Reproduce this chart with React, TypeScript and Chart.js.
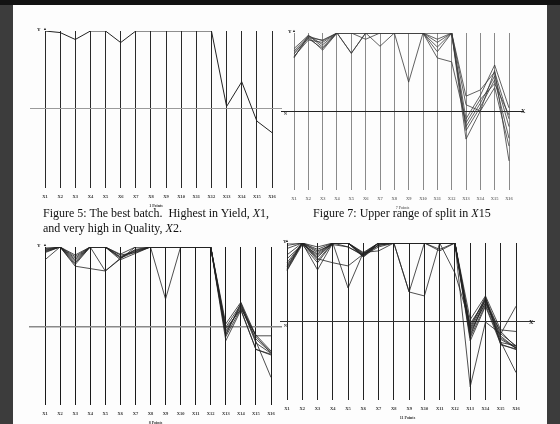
import React, { useEffect, useRef } from "react";
import { Chart, registerables } from "chart.js";

Chart.register(...registerables);

const xLabels = ["X1", "X2", "X3", "X4", "X5", "X6", "X7", "X8", "X9", "X10", "X11", "X12", "X13", "X14", "X15", "X16"];

// Figure 5: the best batch (1 point)
const fig5Lines: number[][] = [
  [1.0, 0.98, 0.89, 1, 1, 0.85, 1, 1, 1, 1, 1, 1, 0.02, 0.34, -0.17, -0.32],
];

// Figure 7: upper range of split in X15 (7 points)
const fig7Lines: number[][] = [
  [0.8, 0.97, 0.85, 1, 1, 1, 1, 1, 1, 1, 1, 1, -0.1, 0.2, 0.59, 0.04],
  [0.77, 0.96, 0.9, 1, 0.74, 1, 1, 1, 1, 1, 0.92, 1, -0.2, 0.1, 0.45, -0.2],
  [0.75, 0.93, 0.8, 1, 1, 0.92, 1, 1, 0.37, 1, 0.88, 1, 0.19, 0.27, 0.5, -0.1],
  [0.73, 0.95, 0.78, 1, 1, 1, 0.83, 1, 1, 1, 0.82, 1, -0.25, 0.05, 0.4, -0.35],
  [0.7, 0.91, 0.88, 1, 0.74, 1, 1, 1, 1, 1, 0.76, 1, -0.36, 0.0, 0.52, -0.64],
  [0.68, 0.97, 0.82, 1, 1, 1, 1, 1, 1, 1, 0.68, 0.63, -0.15, 0.15, 0.35, -0.05],
  [0.69, 0.94, 0.91, 1, 1, 1, 1, 1, 1, 1, 1, 1, 0.08, 0.0, 0.3, -0.45],
];

// lower-left panel (8 points)
const eightLines: number[][] = [
  [1.0, 1, 0.9, 1, 1, 0.91, 1, 1, 1, 1, 1, 1, 0.04, 0.31, -0.11, -0.11],
  [0.97, 1, 0.88, 1, 1, 0.88, 0.95, 1, 1, 1, 1, 1, 0.0, 0.28, -0.12, -0.32],
  [0.95, 1, 0.86, 1, 1, 0.86, 0.97, 1, 0.35, 1, 1, 1, -0.05, 0.25, -0.15, -0.32],
  [0.93, 1, 0.84, 1, 1, 0.9, 0.93, 1, 1, 1, 1, 1, -0.1, 0.3, -0.18, -0.63],
  [0.84, 1, 0.82, 1, 1, 0.84, 0.92, 1, 1, 1, 1, 1, -0.17, 0.21, -0.28, -0.34],
  [0.96, 1, 0.8, 1, 0.7, 0.85, 1, 1, 1, 1, 1, 1, -0.12, 0.23, -0.1, -0.3],
  [0.98, 1, 0.78, 1, 1, 0.87, 0.96, 1, 1, 1, 1, 1, -0.08, 0.27, -0.2, -0.33],
  [0.94, 1, 0.76, 0.73, 0.7, 0.86, 0.94, 1, 1, 1, 1, 1, -0.02, 0.22, -0.28, -0.35],
];

// lower-right panel (11 points)
const elevenLines: number[][] = [
  [1.0, 1, 0.95, 1, 1, 0.88, 1, 1, 1, 1, 1, 1, 0.03, 0.33, -0.1, -0.12],
  [0.97, 1, 0.92, 1, 1, 0.86, 1, 1, 1, 1, 0.9, 1, -0.05, 0.3, -0.15, 0.2],
  [0.93, 1, 0.9, 0.98, 0.95, 0.85, 0.97, 1, 1, 1, 1, 1, -0.1, 0.28, -0.18, -0.33],
  [0.85, 1, 0.88, 1, 1, 0.84, 0.95, 1, 0.38, 0.33, 1, 1, -0.15, 0.25, -0.22, -0.33],
  [0.8, 0.98, 0.86, 1, 1, 0.87, 1, 1, 0.38, 1, 1, 1, -0.2, 0.22, -0.25, -0.64],
  [0.75, 1, 0.84, 1, 0.43, 0.88, 0.9, 1, 1, 1, 1, 0.62, -0.02, 0.27, -0.2, -0.33],
  [0.72, 1, 0.82, 1, 1, 0.83, 1, 1, 1, 1, 0.92, 1, -0.24, 0.2, -0.28, -0.35],
  [0.7, 1, 0.8, 0.75, 0.71, 0.86, 0.97, 1, 1, 1, 1, 1, -0.82, 0.0, -0.15, -0.3],
  [0.68, 1, 0.78, 1, 1, 0.85, 1, 1, 1, 1, 1, 1, -0.08, 0.32, -0.29, -0.34],
  [0.66, 1, 0.66, 1, 1, 0.82, 0.98, 1, 1, 1, 1, 1, -0.12, 0.24, -0.12, -0.32],
  [0.65, 0.98, 0.75, 1, 0.95, 0.84, 1, 1, 1, 1, 1, 1, -0.18, 0.3, -0.26, -0.3],
];

const SERIF = "'Liberation Serif', 'Times New Roman', serif";
const PAD = 3;
const AXH = 20;

type PanelProps = {
  lines: number[][];
  l: number; r: number; t: number; b: number;
  x1: number; x16: number; zero: number;
  title: string;
  gridColor: string; zeroColor: string; zeroWidth: number;
  lineColor: string; lineWidth: number; labelColor: string;
};

function Panel(p: PanelProps) {
  const ref = useRef<HTMLCanvasElement | null>(null);
  const w = p.r - p.l + PAD * 2;
  const h = p.b - p.t + PAD + AXH;
  useEffect(() => {
    if (!ref.current) return;
    const step = (p.x16 - p.x1) / 15;
    const xmin = 1 - (p.x1 - p.l) / step;
    const xmax = 16 + (p.r - p.x16) / step;
    const ymin = -(p.b - p.zero) / (p.zero - p.t);
    const chart = new Chart(ref.current, {
      type: "line",
      data: {
        datasets: p.lines.map((vals) => ({
          data: vals.map((v, i) => ({ x: i + 1, y: v })),
          borderColor: p.lineColor,
          borderWidth: p.lineWidth,
          pointRadius: 0,
          fill: false,
          tension: 0,
        })),
      },
      options: {
        animation: false,
        responsive: false,
        maintainAspectRatio: false,
        events: [],
        layout: { padding: { left: PAD, right: PAD, top: PAD, bottom: 0 } },
        plugins: { legend: { display: false }, tooltip: { enabled: false } },
        scales: {
          x: {
            type: "linear",
            min: xmin,
            max: xmax,
            border: { display: false },
            grid: { color: p.gridColor, lineWidth: 1, drawTicks: false },
            ticks: {
              autoSkip: false,
              maxRotation: 0,
              minRotation: 0,
              padding: 6,
              color: p.labelColor,
              font: { family: SERIF, size: 4.5, weight: "bold" },
              callback: (v: any) => xLabels[Math.round(Number(v)) - 1] ?? "",
            },
            afterBuildTicks: (s: any) => {
              s.ticks = xLabels.map((_, i) => ({ value: i + 1 }));
            },
            afterFit: (s: any) => {
              s.height = AXH;
            },
            title: {
              display: true,
              text: p.title,
              color: p.labelColor,
              font: { family: SERIF, size: 4, weight: "bold" },
              padding: { top: 0, bottom: 0 },
            },
          },
          y: {
            type: "linear",
            min: ymin,
            max: 1,
            border: { display: false },
            grid: { color: p.zeroColor, lineWidth: p.zeroWidth, drawTicks: false },
            ticks: { display: false },
            afterBuildTicks: (s: any) => {
              s.ticks = [{ value: 0 }];
            },
            afterFit: (s: any) => {
              s.width = 0;
            },
          },
        },
      },
    } as any);
    return () => chart.destroy();
  }, []);
  return (
    <canvas
      ref={ref}
      width={w}
      height={h}
      style={{ position: "absolute", left: p.l - PAD, top: p.t - PAD, width: w, height: h }}
    />
  );
}

const tiny = (x: number, y: number, text: string, size = 5, extra: any = {}) => (
  <span
    style={{
      position: "absolute",
      left: x,
      top: y,
      fontFamily: SERIF,
      fontSize: size,
      fontWeight: "bold",
      lineHeight: 1,
      color: "#222",
      whiteSpace: "nowrap",
      ...extra,
    }}
  >
    {text}
  </span>
);

export default function App() {
  return (
    <div
      style={{
        position: "fixed",
        left: 0,
        top: 0,
        width: 560,
        height: 424,
        background: "#3c3c3c",
        overflow: "hidden",
      }}
    >
      <div style={{ position: "absolute", left: 0, top: 0, width: 560, height: 5, background: "#121212" }} />
      <div style={{ position: "absolute", left: 13, top: 5, width: 534, height: 419, background: "#fdfdfd" }} />

      <Panel lines={fig5Lines} l={30} r={282} t={31} b={188} x1={45} x16={272} zero={108}
        title="1 Points" gridColor="#2a2a2a" zeroColor="#9a9a9a" zeroWidth={1}
        lineColor="#222" lineWidth={1} labelColor="#333" />
      <Panel lines={fig7Lines} l={281} r={524} t={33} b={190} x1={294} x16={509} zero={111}
        title="7 Points" gridColor="#8a8a8a" zeroColor="#222" zeroWidth={1}
        lineColor="#3a3a3a" lineWidth={0.8} labelColor="#777" />
      <Panel lines={eightLines} l={29} r={282} t={247} b={405} x1={45} x16={271} zero={327}
        title="8 Points" gridColor="#1a1a1a" zeroColor="#8a8a8a" zeroWidth={1.5}
        lineColor="#222" lineWidth={0.8} labelColor="#333" />
      <Panel lines={elevenLines} l={280} r={535} t={243} b={400} x1={287} x16={516} zero={322}
        title="11 Points" gridColor="#222" zeroColor="#333" zeroWidth={1}
        lineColor="#222" lineWidth={0.8} labelColor="#333" />

      {tiny(37, 27, "Y")}
      {tiny(43, 27, "▲", 4)}
      {tiny(288, 29, "Y")}
      {tiny(292, 29, "▲", 4)}
      {tiny(37, 243, "Y")}
      {tiny(43, 243, "▲", 4)}
      {tiny(283, 239, "Y")}
      {tiny(285, 239, "▲", 4)}
      {tiny(521, 108, "X", 6)}
      {tiny(284, 112, "N", 4)}
      {tiny(529, 319, "X", 6)}
      {tiny(284, 324, "N", 4)}

      <div style={{ position: "absolute", left: 43, top: 206, fontFamily: SERIF, fontSize: 12, lineHeight: "15px", color: "#111", whiteSpace: "nowrap" }}>
        Figure 5: The best batch.&nbsp; Highest in Yield, <i>X</i>1,
        <br />
        and very high in Quality, <i>X</i>2.
      </div>
      <div style={{ position: "absolute", left: 313, top: 206, fontFamily: SERIF, fontSize: 12, lineHeight: "15px", color: "#111", whiteSpace: "nowrap" }}>
        Figure 7: Upper range of split in <i>X</i>15
      </div>
    </div>
  );
}
